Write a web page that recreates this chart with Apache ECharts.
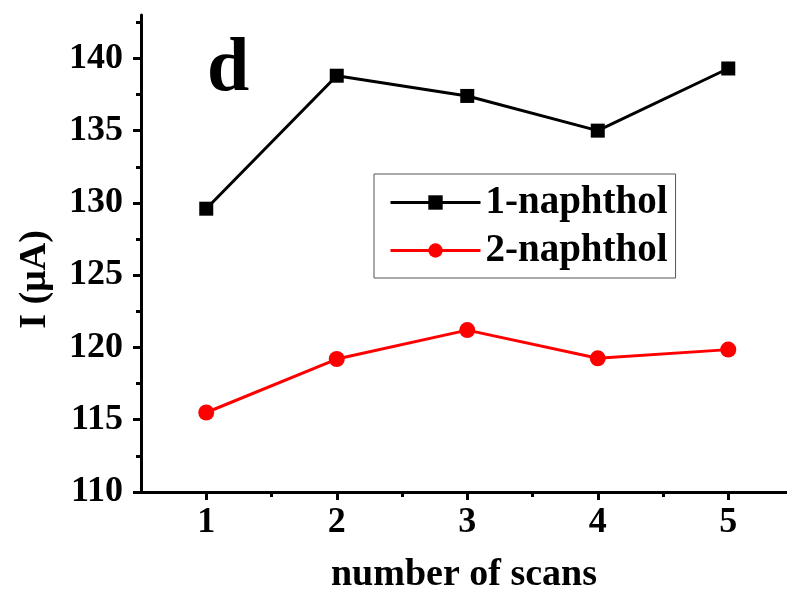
<!DOCTYPE html>
<html>
<head>
<meta charset="utf-8">
<script src="https://cdn.jsdelivr.net/npm/echarts@6/dist/echarts.min.js"></script>
<style>
  html, body { margin: 0; padding: 0; background: #fff; }
  #main { width: 787px; height: 594px; }
</style>
</head>
<body>
<div id="main"></div>
<script>
// data
const scans = [1, 2, 3, 4, 5]
const naphthol1 = [129.6, 138.8, 137.4, 135.0, 139.3]
const naphthol2 = [115.5, 119.2, 121.2, 119.25, 119.85]
const yTicks = [110, 115, 120, 125, 130, 135, 140]
const yMinor = [112.5, 117.5, 122.5, 127.5, 132.5, 137.5, 142.5]
const xTicks = [1, 2, 3, 4, 5]
const xMinor = [1.5, 2.5, 3.5, 4.5]

const font = 'Liberation Serif'
const myChart = echarts.init(document.getElementById('main'))

const toPairs = (ys) => scans.map((x, i) => [x, ys[i]])

myChart.setOption({
  backgroundColor: '#fff',
  animation: false,
  graphic: [{
    type: 'text',
    left: 207,
    top: 32,
    style: { text: 'd', font: 'bold 76px "Liberation Serif"', fill: '#000' }
  }],
  legend: {
    left: 374,
    top: 174,
    orient: 'vertical',
    padding: [9, 8, 8, 15],
    itemGap: 9,
    itemWidth: 90,
    itemHeight: 18,
    borderColor: '#555',
    borderWidth: 1,
    lineStyle: { width: 3 },
    textStyle: { fontFamily: font, fontWeight: 'bold', fontSize: 39, color: '#000' },
    data: ['1-naphthol', '2-naphthol']
  },
  grid: { left: 141, top: 15, right: 0, bottom: 102, containLabel: false, outerBoundsMode: 'none' },
  xAxis: [{
    type: 'value',
    min: 0.5,
    max: 5.45,
    name: 'number of scans',
    nameLocation: 'middle',
    nameGap: 64,
    nameTextStyle: { fontFamily: font, fontWeight: 'bold', fontSize: 38, color: '#000' },
    splitLine: { show: false },
    axisLine: { lineStyle: { color: '#000', width: 3 } },
    axisTick: { customValues: xTicks, length: 8, lineStyle: { color: '#000', width: 3 } },
    axisLabel: { customValues: xTicks, margin: 13, fontFamily: font, fontWeight: 'bold', fontSize: 36, color: '#000' }
  }, {
    type: 'value',
    position: 'bottom',
    min: 0.5,
    max: 5.45,
    splitLine: { show: false },
    axisLine: { show: false },
    axisTick: { customValues: xMinor, length: 5, lineStyle: { color: '#000', width: 3 } },
    axisLabel: { show: false }
  }],
  yAxis: [{
    type: 'value',
    min: 110,
    max: 143,
    name: 'I (μA)',
    nameLocation: 'middle',
    nameGap: 87,
    nameTextStyle: { fontFamily: font, fontWeight: 'bold', fontSize: 38, color: '#000', padding: [0, 52, 0, 0] },
    splitLine: { show: false },
    axisLine: { lineStyle: { color: '#000', width: 3 } },
    axisTick: { customValues: yTicks, length: 8, lineStyle: { color: '#000', width: 3 } },
    axisLabel: { customValues: yTicks, margin: 18, fontFamily: font, fontWeight: 'bold', fontSize: 36, color: '#000' }
  }, {
    type: 'value',
    position: 'left',
    min: 110,
    max: 143,
    splitLine: { show: false },
    axisLine: { show: false },
    axisTick: { customValues: yMinor, length: 5, lineStyle: { color: '#000', width: 3 } },
    axisLabel: { show: false }
  }],
  series: [{
    name: '1-naphthol',
    type: 'line',
    data: toPairs(naphthol1),
    symbol: 'rect',
    symbolSize: 14,
    color: '#000',
    lineStyle: { width: 3, color: '#000' },
    itemStyle: { color: '#000' }
  }, {
    name: '2-naphthol',
    type: 'line',
    data: toPairs(naphthol2),
    symbol: 'circle',
    symbolSize: 16,
    color: '#ff0000',
    lineStyle: { width: 3, color: '#ff0000' },
    itemStyle: { color: '#ff0000' }
  }]
})
</script>
</body>
</html>
